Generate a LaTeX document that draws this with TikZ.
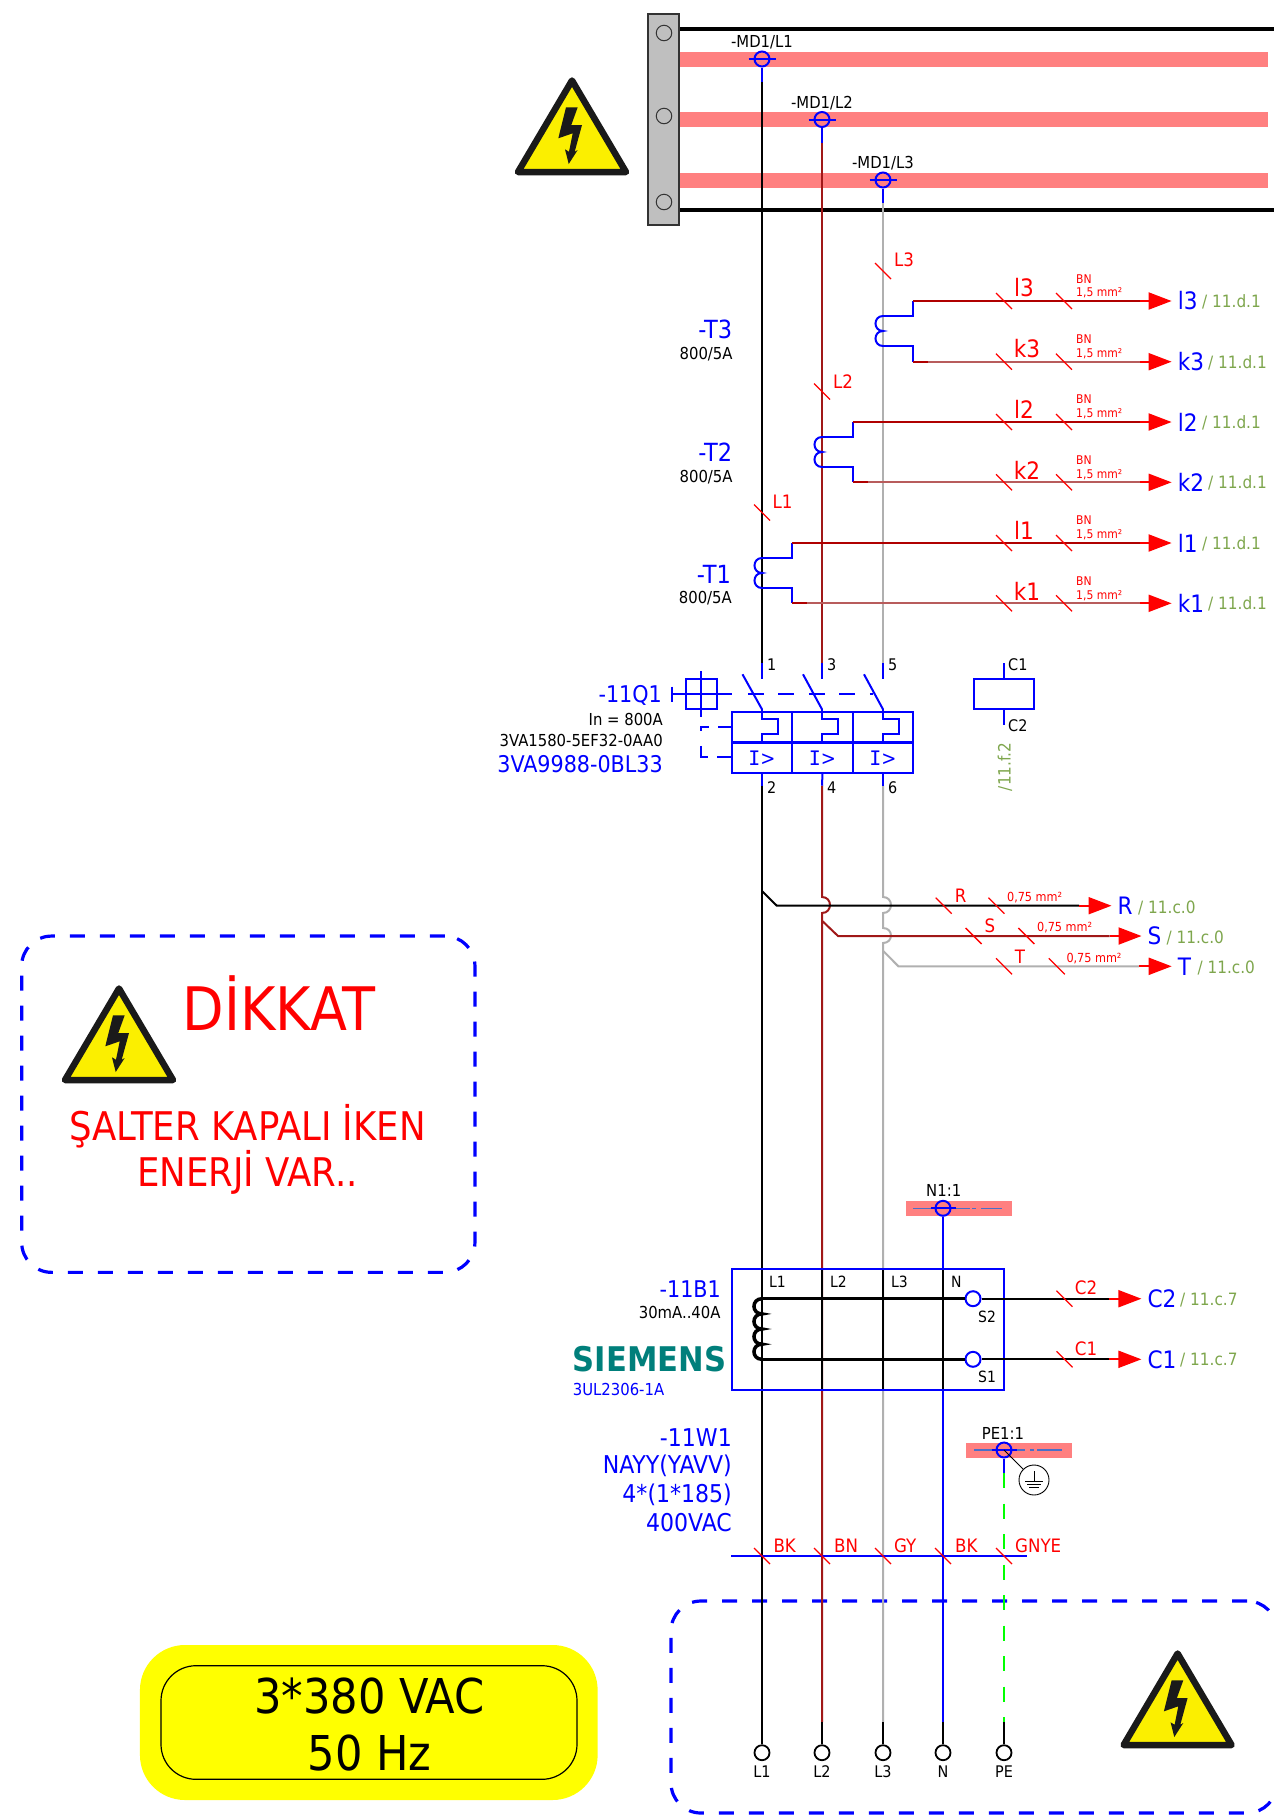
\documentclass[tikz,border=0pt]{standalone}
\usepackage{fontspec}
\setmainfont{DejaVu Sans Condensed}
\newfontfamily\slabfont{DejaVu Sans Mono}
\usetikzlibrary{arrows.meta}

\definecolor{busred}{HTML}{FF8080}
\definecolor{wirebrown}{HTML}{A01818}
\definecolor{wiregrey}{HTML}{B0B0B0}
\definecolor{refgreen}{HTML}{7EA64D}
\definecolor{siemensteal}{HTML}{007F7B}
\definecolor{signyellow}{HTML}{FBEF00}
\definecolor{signblack}{HTML}{1A1A1A}
\definecolor{voltyellow}{HTML}{FFFF00}
\definecolor{darkout}{HTML}{B00000}
\definecolor{paleout}{HTML}{B85C5C}
\definecolor{axisblue}{HTML}{4A6FC8}

\tikzset{
  fs/.style={font=\fontsize{#1}{#1}\selectfont},
  wire/.style={line width=2},
  bluewire/.style={wire,draw=blue},
  redhead/.style={wire,draw=red,-{Triangle[length=23pt,width=17pt]}},
  taptick/.pic={\draw[red,line width=1.3] (-8,-8) -- (8,8);},
  ctcoil/.pic={\draw[bluewire] (0,0) .. controls (-10,0) and (-10,15) .. (0,15) .. controls (-10,15) and (-10,30) .. (0,30);},
  bimetal/.pic={\draw[bluewire] (0,0) -- (0,10) -- (15.5,10) -- (15.5,24.5) -- (0,24.5) -- (0,33);},
  warnsign/.pic={
    \draw[draw=signblack,fill=signyellow,line width=6.5,line join=round] (0,3.5) -- (54,95) -- (-54,95) -- cycle;
    \fill[signblack] (-6,30.3) -- (5.7,30.3) -- (-0.7,48) -- (10,48) -- (2.7,74.7) -- (5.7,73) -- (-3.3,87) -- (-7,72.3) -- (-3,74.7) -- (0.7,56.3) -- (-13.7,61.3) -- cycle;
  },
  cell/.style={draw=blue,line width=2,minimum width=60.4,minimum height=31,outer sep=0pt,text=blue,fs=20},
  tapring/.style={circle,draw=blue,line width=2,minimum size=15},
  terminal/.style={circle,draw=black,line width=1.8,minimum size=15},
  sring/.style={circle,draw=blue,line width=2,minimum size=15},
  dashbox/.style={draw=blue,line width=3.2,dash pattern=on 15pt off 15pt,rounded corners=30},
  blabel/.style={text=blue,anchor=west,inner xsep=6pt,fs=24},
  refnote/.style={text=refgreen,anchor=west,fs=17},
  redtxt/.style={text=red,fs=#1},
  blacktxt/.style={text=black,fs=#1},
  rightblue/.style={text=blue,anchor=east,fs=#1},
  rightblack/.style={text=black,anchor=east,fs=#1},
  leftblack/.style={text=black,anchor=west,fs=#1},
}

\begin{document}
\begin{tikzpicture}[x=1pt,y=-1pt,every node/.style={inner sep=0pt}]
   \useasboundingbox (0,0) rectangle (1274,1816);

   % panels
   \node[fill=voltyellow,rounded corners=45,minimum width=457.7,minimum height=155] (voltbg) at (368.8,1722.5) {};
   \node[draw=black,line width=1.2,rounded corners=35,minimum width=416,minimum height=113.6] (voltfr) at (369,1722.5) {};
   \node[fs=48] (volta) at (369.5,1696) {3*380 VAC};
   \node[fs=48] (voltb) at (369.5,1753) {50 Hz};
   \node[dashbox,minimum width=453.3,minimum height=336.3] (warnbox) at (248.3,1104.2) {};
   \node[dashbox,minimum width=606,minimum height=212] (termbox) at (974,1707) {};

   % warning text
   \node[text=red,fs=60] (dikkat) at (279,1003) {DİKKAT};
   \node[text=red,fs=39.5] (salter) at (247.5,1126.7) {ŞALTER KAPALI İKEN};
   \node[text=red,fs=39.5] (enerji) at (247.5,1172) {ENERJİ VAR..};
   \pic at (572,77) {warnsign};
   \pic at (119,985) {warnsign};
   \pic at (1177.6,1650) {warnsign};

   % busbars
   \node[fill=busred,minimum width=589,minimum height=15] (bar1) at (973.5,59) {};
   \node[fill=busred,minimum width=589,minimum height=15] (bar2) at (973.5,119.5) {};
   \node[fill=busred,minimum width=589,minimum height=15] (bar3) at (973.5,180) {};
   \node[fill=busred,minimum width=105.7,minimum height=14.7] (barN) at (958.8,1208.3) {};
   \node[fill=busred,minimum width=106,minimum height=15] (barPE) at (1019,1450) {};
   \coordinate (bt1) at (679,29);
   \coordinate (bt2) at (1274,29);
   \coordinate (bb1) at (679,210);
   \coordinate (bb2) at (1274,210);
   \draw[line width=3.5] (bt1) -- (bt2);
   \draw[line width=3.5] (bb1) -- (bb2);
   \node[draw=black!80,fill=black!25,line width=1.5,minimum width=31,minimum height=211] (rail) at (663.5,119.5) {};
   \node[circle,draw=black!80,line width=1,minimum size=15.5] (railc1) at (664,33) {};
   \node[circle,draw=black!80,line width=1,minimum size=15.5] (railc2) at (664,116) {};
   \node[circle,draw=black!80,line width=1,minimum size=15.5] (railc3) at (664,202) {};

   % phase wires
   \coordinate (a1) at (762,82);
   \coordinate (a2) at (822,143);
   \coordinate (a3) at (883,203);
   \coordinate (b1) at (762,663.3);
   \coordinate (b2) at (822,663.3);
   \coordinate (b3) at (883,663.3);
   \coordinate (c1) at (762,679.3);
   \coordinate (c2) at (822,679.3);
   \coordinate (c3) at (883,679.3);
   \coordinate (f1) at (762,785.7);
   \coordinate (f2) at (822,785.7);
   \coordinate (f3) at (883,785.7);
   \coordinate (h1) at (822,897);
   \coordinate (h2) at (822,913);
   \coordinate (h3) at (883,897);
   \coordinate (h4) at (883,913);
   \coordinate (h5) at (883,928);
   \coordinate (h6) at (883,943);
   \coordinate (g1) at (762,1722);
   \coordinate (g2) at (822,1722);
   \coordinate (g3) at (883,1722);
   \coordinate (gN) at (943,1722);
   \coordinate (gPE) at (1004,1722);
   \draw[wire] (a1) -- (b1);
   \draw[wire] (f1) -- (g1);
   \draw[wire,wirebrown] (a2) -- (b2);
   \draw[wire,wirebrown] (f2) -- (h1) .. controls (832.6,897) and (832.6,913) .. (h2) -- (g2);
   \draw[wire,wiregrey] (a3) -- (b3);
   \draw[wire,wiregrey] (f3) -- (h3) .. controls (893.6,897) and (893.6,913) .. (h4) -- (h5) .. controls (893.6,928) and (893.6,943) .. (h6) -- (g3);

   % bus taps
   \node[tapring] (md1) at (762,59) {};
   \node[tapring] (md2) at (822,119.5) {};
   \node[tapring] (md3) at (883,180) {};
   \draw[bluewire] (md1) -- (a1);
   \draw[bluewire] (md2) -- (a2);
   \draw[bluewire] (md3) -- (a3);
   \draw[bluewire] ([xshift=-5pt]md1.west) -- ([xshift=5pt]md1.east);
   \draw[bluewire] ([xshift=-5pt]md2.west) -- ([xshift=5pt]md2.east);
   \draw[bluewire] ([xshift=-5pt]md3.west) -- ([xshift=5pt]md3.east);
   \node[blacktxt=16.5] (md1t) at (762,42) {-MD1/L1};
   \node[blacktxt=16.5] (md2t) at (822,103) {-MD1/L2};
   \node[blacktxt=16.5] (md3t) at (883,163) {-MD1/L3};

   % current transformers
   \pic at (883,316) {ctcoil};
   \pic at (822,437) {ctcoil};
   \pic at (762,558) {ctcoil};
   \coordinate (k3a) at (883,316);
   \coordinate (k3b) at (913,316);
   \coordinate (k3c) at (913,301);
   \coordinate (k3d) at (883,346);
   \coordinate (k3e) at (913,346);
   \coordinate (k3f) at (913,361.7);
   \coordinate (k2a) at (822,437);
   \coordinate (k2b) at (852.6,437);
   \coordinate (k2c) at (852.6,422);
   \coordinate (k2d) at (822,467);
   \coordinate (k2e) at (852.6,467);
   \coordinate (k2f) at (852.6,482.3);
   \coordinate (k1a) at (762,558);
   \coordinate (k1b) at (792.3,558);
   \coordinate (k1c) at (792.3,543);
   \coordinate (k1d) at (762,588);
   \coordinate (k1e) at (792.3,588);
   \coordinate (k1f) at (792.3,603.3);
   \draw[bluewire] (k3a) -- (k3b) -- (k3c);
   \draw[bluewire] (k3d) -- (k3e) -- (k3f);
   \draw[bluewire] (k2a) -- (k2b) -- (k2c);
   \draw[bluewire] (k2d) -- (k2e) -- (k2f);
   \draw[bluewire] (k1a) -- (k1b) -- (k1c);
   \draw[bluewire] (k1d) -- (k1e) -- (k1f);
   \node[rightblue=25] (t3t) at (732.4,329) {-T3};
   \node[rightblue=25] (t2t) at (732.4,452.7) {-T2};
   \node[rightblue=25] (t1t) at (731,574.7) {-T1};
   \node[rightblack=16.5] (t3r) at (732.8,354) {800/5A};
   \node[rightblack=16.5] (t2r) at (732.8,477) {800/5A};
   \node[rightblack=16.5] (t1r) at (732,598) {800/5A};
   \pic at (883,271) {taptick};
   \pic at (822,391.5) {taptick};
   \pic at (762,512.5) {taptick};
   \node[redtxt=18.5] (l3tx) at (904,260) {L3};
   \node[redtxt=18.5] (l2tx) at (843,382) {L2};
   \node[redtxt=18.5] (l1tx) at (782.5,502) {L1};

   % secondary outputs
   \node[blabel] (l3out) at (1171.6,301) {l3};
   \node[blabel] (k3out) at (1171.6,361.7) {k3};
   \node[blabel] (l2out) at (1171.6,422) {l2};
   \node[blabel] (k2out) at (1171.6,482.3) {k2};
   \node[blabel] (l1out) at (1171.6,543) {l1};
   \node[blabel] (k1out) at (1171.6,603.3) {k1};
   \coordinate (s3a) at (1140,301);
   \coordinate (s3b) at (1140,361.7);
   \coordinate (s2a) at (1140,422);
   \coordinate (s2b) at (1140,482.3);
   \coordinate (s1a) at (1140,543);
   \coordinate (s1b) at (1140,603.3);
   \draw[wire,darkout] (k3c) -- (s3a);
   \draw[wire,darkout] (k2c) -- (s2a);
   \draw[wire,darkout] (k1c) -- (s1a);
   \draw[wire,paleout] (k3f) -- (s3b);
   \draw[wire,paleout] (k2f) -- (s2b);
   \draw[wire,paleout] (k1f) -- (s1b);
   \draw[wire,darkout] (k3f) -- ++(15,0);
   \draw[wire,darkout] (k2f) -- ++(15,0);
   \draw[wire,darkout] (k1f) -- ++(15,0);
   \draw[redhead] (s3a) -- (l3out);
   \draw[redhead] (s3b) -- (k3out);
   \draw[redhead] (s2a) -- (l2out);
   \draw[redhead] (s2b) -- (k2out);
   \draw[redhead] (s1a) -- (l1out);
   \draw[redhead] (s1b) -- (k1out);
   \node[refnote] (l3ref) at (1202,302) {/ 11.d.1};
   \node[refnote] (k3ref) at (1208,362.7) {/ 11.d.1};
   \node[refnote] (l2ref) at (1202,423) {/ 11.d.1};
   \node[refnote] (k2ref) at (1208,483.3) {/ 11.d.1};
   \node[refnote] (l1ref) at (1202,544) {/ 11.d.1};
   \node[refnote] (k1ref) at (1208,604.3) {/ 11.d.1};
   \pic at (1004,301) {taptick};
   \pic at (1064,301) {taptick};
   \pic at (1004,361.7) {taptick};
   \pic at (1064,361.7) {taptick};
   \pic at (1004,422) {taptick};
   \pic at (1064,422) {taptick};
   \pic at (1004,482.3) {taptick};
   \pic at (1064,482.3) {taptick};
   \pic at (1004,543) {taptick};
   \pic at (1064,543) {taptick};
   \pic at (1004,603.3) {taptick};
   \pic at (1064,603.3) {taptick};
   \begin{scope}[every node/.style={inner sep=0pt,text=red,fs=24}]
    \node (l3n) at (1024,288) {l3};
    \node (k3n) at (1027,349) {k3};
    \node (l2n) at (1024,409) {l2};
    \node (k2n) at (1027,470) {k2};
    \node (l1n) at (1024,530) {l1};
    \node (k1n) at (1027,591) {k1};
   \end{scope}
   \begin{scope}[every node/.style={inner sep=0pt,text=red,anchor=west,fs=12}]
    \node (bn1) at (1076,279) {BN};
    \node (bn2) at (1076,339) {BN};
    \node (bn3) at (1076,399) {BN};
    \node (bn4) at (1076,460) {BN};
    \node (bn5) at (1076,520) {BN};
    \node (bn6) at (1076,581) {BN};
    \node (mm1) at (1076,292.7) {1,5 mm²};
    \node (mm2) at (1076,353.7) {1,5 mm²};
    \node (mm3) at (1076,413.7) {1,5 mm²};
    \node (mm4) at (1076,474.7) {1,5 mm²};
    \node (mm5) at (1076,534.7) {1,5 mm²};
    \node (mm6) at (1076,595.7) {1,5 mm²};
   \end{scope}

   % breaker
   \draw[bluewire] (b1) -- (c1);
   \draw[bluewire] (b2) -- (c2);
   \draw[bluewire] (b3) -- (c3);
   \node[cell] (q1) at (762,727.2) {};
   \node[cell] (q2) at (822.5,727.2) {};
   \node[cell] (q3) at (883,727.2) {};
   \node[cell] (r1) at (762,757.8) {{\slabfont I}>};
   \node[cell] (r2) at (822.5,757.8) {{\slabfont I}>};
   \node[cell] (r3) at (883,757.8) {{\slabfont I}>};
   \coordinate (e1) at (762,709.3);
   \coordinate (e2) at (822,709.3);
   \coordinate (e3) at (883,709.3);
   \coordinate (sw1) at (742.5,674.3);
   \coordinate (sw2) at (803,674.3);
   \coordinate (sw3) at (864,674.3);
   \draw[bluewire] (sw1) -- (e1);
   \draw[bluewire] (sw2) -- (e2);
   \draw[bluewire] (sw3) -- (e3);
   \pic at (e1) {bimetal};
   \pic at (e2) {bimetal};
   \pic at (e3) {bimetal};
   \draw[bluewire] (r1.south) -- (f1);
   \draw[bluewire] (r2.south) -- (f2);
   \draw[bluewire] (r3.south) -- (f3);
   \node[leftblack=16] (p1) at (767,665) {1};
   \node[leftblack=16] (p3) at (827,665) {3};
   \node[leftblack=16] (p5) at (888,665) {5};
   \node[leftblack=16] (p2) at (767,788) {2};
   \node[leftblack=16] (p4) at (827,788) {4};
   \node[leftblack=16] (p6) at (888,788) {6};

   % rotary handle
   \node[draw=blue,line width=2,minimum width=30.8,minimum height=30] (handle) at (701.4,694) {};
   \coordinate (hw) at (671.8,693.7);
   \coordinate (hw1) at (671.8,686.7);
   \coordinate (hw2) at (671.8,701.7);
   \coordinate (he) at (731.8,693.7);
   \coordinate (hd) at (747.9,693.7);
   \coordinate (hf) at (873,693.7);
   \coordinate (hn) at (701.4,671);
   \coordinate (hs) at (701.4,716.7);
   \coordinate (la) at (731.8,727.3);
   \coordinate (lb) at (701.4,727.3);
   \coordinate (lc) at (701.4,757.3);
   \coordinate (ld) at (731.8,757.3);
   \draw[bluewire] (hw1) -- (hw2);
   \draw[bluewire] (hw) -- (he);
   \draw[bluewire] (hn) -- (hs);
   \draw[bluewire,dash pattern=on 16pt off 14.5pt] (hd) -- (hf);
   \draw[bluewire,dash pattern=on 14pt off 9pt on 11pt off 15pt on 18pt off 9pt on 14pt off 0pt] (la) -- (lb) -- (lc) -- (ld);
   \node[rightblue=23] (q1tag) at (662,695) {-11Q1};
   \node[rightblack=16.5] (q1in) at (663,719) {In = 800A};
   \node[rightblack=16.5] (q1type) at (663,740) {3VA1580-5EF32-0AA0};
   \node[rightblue=23] (q1aux) at (663,764) {3VA9988-0BL33};

   % contactor coil
   \node[draw=blue,line width=2,minimum width=60,minimum height=30] (coil) at (1003.6,694) {};
   \coordinate (co1) at (1003.6,663.3);
   \coordinate (co2) at (1003.6,725);
   \draw[bluewire] (co1) -- (coil);
   \draw[bluewire] (coil) -- (co2);
   \node[leftblack=16] (c1tx) at (1008,665) {C1};
   \node[leftblack=16] (c2tx) at (1008,726) {C2};
   \node[text=refgreen,rotate=90,fs=17] (cref) at (1005,767) {/11.f.2};

   % tap wires
   \coordinate (ta1) at (762,891);
   \coordinate (ta2) at (776.8,905.7);
   \coordinate (ta3) at (1079,905.7);
   \coordinate (tb1) at (822,920.7);
   \coordinate (tb2) at (838,936);
   \coordinate (tb3) at (1109.5,936);
   \coordinate (tc1) at (883,950.7);
   \coordinate (tc2) at (898.4,966.3);
   \coordinate (tc3) at (1139,966.3);
   \draw[wire] (ta1) -- (ta2) -- (ta3);
   \draw[wire,wirebrown] (tb1) -- (tb2) -- (tb3);
   \draw[wire,wiregrey] (tc1) -- (tc2) -- (tc3);
   \node[blabel] (rout) at (1111.5,905.7) {R};
   \node[blabel] (sout) at (1141.5,936) {S};
   \node[blabel] (tout) at (1171.7,966.3) {T};
   \draw[redhead] (ta3) -- (rout);
   \draw[redhead] (tb3) -- (sout);
   \draw[redhead] (tc3) -- (tout);
   \node[refnote] (rref) at (1138,908) {/ 11.c.0};
   \node[refnote] (sref) at (1166.4,938) {/ 11.c.0};
   \node[refnote] (tref) at (1197.4,968) {/ 11.c.0};
   \pic at (943.7,905.7) {taptick};
   \pic at (996.5,905.7) {taptick};
   \pic at (973.6,936) {taptick};
   \pic at (1026.4,936) {taptick};
   \pic at (1004,966.3) {taptick};
   \pic at (1056.8,966.3) {taptick};
   \node[redtxt=18.5] (rtx) at (960.7,895.7) {R};
   \node[redtxt=18.5] (stx) at (990,925.7) {S};
   \node[redtxt=18.5] (ttx) at (1020,956.7) {T};
   \node[redtxt=12.5] (rmm) at (1034.6,897.3) {0,75 mm²};
   \node[redtxt=12.5] (smm) at (1064.6,927.7) {0,75 mm²};
   \node[redtxt=12.5] (tmm) at (1094,958.7) {0,75 mm²};

   % neutral and earth bars
   \coordinate (nl) at (913,1208.3);
   \coordinate (nr) at (1001.7,1208.3);
   \coordinate (pl) at (974,1450);
   \coordinate (pr) at (1061.7,1450);
   \draw[draw=axisblue,line width=1.4,dash pattern=on 57pt off 2pt on 4pt off 5pt on 21pt off 0pt] (nl) -- (nr);
   \draw[draw=axisblue,line width=1.4,dash pattern=on 51pt off 5pt on 4pt off 3pt on 25pt off 0pt] (pl) -- (pr);
   \node[tapring] (n1) at (943,1208.3) {};
   \node[tapring] (pe1) at (1004,1450) {};
   \draw[bluewire] ([xshift=-4pt]n1.west) -- ([xshift=4pt]n1.east);
   \draw[bluewire] ([xshift=-4pt]pe1.west) -- ([xshift=4pt]pe1.east);
   \node[blacktxt=16.5] (n1t) at (943.7,1190) {N1:1};
   \node[blacktxt=16.5] (pe1t) at (1003,1433) {PE1:1};
   \coordinate (pea) at (1004,1473);
   \coordinate (peb) at (1004,1722);
   \draw[bluewire] (n1) -- (gN);
   \draw[bluewire] (pe1) -- (pea);
   \draw[wire,draw=green,dash pattern=on 15pt off 15.5pt] (pea) -- (peb);
   \node[circle,draw=black,line width=0.9,minimum size=30] (earth) at (1034,1480) {};
   \draw[line width=0.9] (pe1.center) -- (earth);
   \coordinate (ea1) at (1034,1471);
   \coordinate (ea2) at (1034,1481);
   \coordinate (eb1) at (1025,1481);
   \coordinate (eb2) at (1043,1481);
   \coordinate (ec1) at (1027,1484.3);
   \coordinate (ec2) at (1041,1484.3);
   \coordinate (ed1) at (1029,1487.7);
   \coordinate (ed2) at (1039,1487.7);
   \draw[line width=0.9] (ea1) -- (ea2);
   \draw[line width=0.9] (eb1) -- (eb2);
   \draw[line width=0.9] (ec1) -- (ec2);
   \draw[line width=0.9] (ed1) -- (ed2);

   % residual current relay
   \coordinate (i1) at (822,1269);
   \coordinate (i2) at (822,1390);
   \coordinate (i3) at (883,1269);
   \coordinate (i4) at (883,1390);
   \coordinate (i5) at (943,1269);
   \coordinate (i6) at (943,1390);
   \draw[wire] (i1) -- (i2);
   \draw[wire] (i3) -- (i4);
   \draw[wire] (i5) -- (i6);
   \node[draw=blue,line width=2,minimum width=272,minimum height=121] (rcm) at (868,1329.5) {};
   \coordinate (u1) at (762,1298.7);
   \coordinate (u2) at (762,1359.3);
   \node[sring] (s2) at (973,1298.7) {};
   \node[sring] (s1) at (973,1359.3) {};
   \draw[line width=3.5] (u1) -- (s2);
   \draw[line width=3.5] (u2) -- (s1);
   \draw[line width=3.5] (u1) .. controls (751.3,1298.7) and (751.3,1313.9) .. (762,1313.9) .. controls (751.3,1313.9) and (751.3,1329) .. (762,1329) .. controls (751.3,1329) and (751.3,1344.2) .. (762,1344.2) .. controls (751.3,1344.2) and (751.3,1359.3) .. (u2);
   \node[leftblack=15.5] (rl1) at (769,1281.7) {L1};
   \node[leftblack=15.5] (rl2) at (830,1281.7) {L2};
   \node[leftblack=15.5] (rl3) at (891,1281.7) {L3};
   \node[leftblack=15.5] (rln) at (951,1281.7) {N};
   \node[leftblack=15.5] (rs2) at (978,1316.7) {S2};
   \node[leftblack=15.5] (rs1) at (978,1376.7) {S1};
   \coordinate (v1) at (1108.7,1298.7);
   \coordinate (v2) at (1108.7,1359.3);
   \draw[wire] (s2) -- (v1);
   \draw[wire] (s1) -- (v2);
   \node[blabel] (c2out) at (1141.4,1298.7) {C2};
   \node[blabel] (c1out) at (1141.4,1359.3) {C1};
   \draw[redhead] (v1) -- (c2out);
   \draw[redhead] (v2) -- (c1out);
   \node[refnote] (c2ref) at (1180,1300) {/ 11.c.7};
   \node[refnote] (c1ref) at (1180,1360) {/ 11.c.7};
   \pic at (1064.5,1298.7) {taptick};
   \pic at (1064.5,1359.3) {taptick};
   \node[redtxt=18.5] (c2tk) at (1086,1288) {C2};
   \node[redtxt=18.5] (c1tk) at (1086,1349) {C1};
   \node[rightblue=23] (b1tag) at (721,1289) {-11B1};
   \node[rightblack=16.5] (b1rng) at (720.7,1312) {30mA..40A};
   \node[anchor=west,text=siemensteal,font=\fontsize{34}{34}\selectfont\bfseries] (siemens) at (572.7,1359) {SIEMENS};
   \node[text=blue,anchor=west,fs=16.5] (rcmtype) at (572.7,1389) {3UL2306-1A};

   % cable
   \coordinate (ca) at (731,1555.7);
   \coordinate (cb) at (1026.7,1555.7);
   \draw[bluewire] (ca) -- (cb);
   \pic at (762,1556) {taptick};
   \pic at (822,1556) {taptick};
   \pic at (883,1556) {taptick};
   \pic at (943,1556) {taptick};
   \pic at (1004,1556) {taptick};
   \begin{scope}[every node/.style={inner sep=0pt,text=red,anchor=west,fs=18.5}]
    \node (bk1) at (773.3,1545.7) {BK};
    \node (bn7) at (834,1545.7) {BN};
    \node (gy1) at (894,1545.7) {GY};
    \node (bk2) at (955,1545.7) {BK};
    \node (gnye) at (1015,1545.7) {GNYE};
   \end{scope}
   \node[rightblue=24.5] (w1a) at (732,1438) {-11W1};
   \node[rightblue=24.5] (w1b) at (732,1466) {NAYY(YAVV)};
   \node[rightblue=24.5] (w1c) at (732,1495) {4*(1*185)};
   \node[rightblue=24.5] (w1d) at (732,1522.5) {400VAC};

   % terminals
   \node[terminal] (t1) at (762,1752.7) {};
   \node[terminal] (t2) at (822,1752.7) {};
   \node[terminal] (t3) at (883,1752.7) {};
   \node[terminal] (t4) at (943,1752.7) {};
   \node[terminal] (t5) at (1004,1752.7) {};
   \draw[wire] (g1) -- (t1);
   \draw[wire] (g2) -- (t2);
   \draw[wire] (g3) -- (t3);
   \draw[wire] (gN) -- (t4);
   \draw[wire] (gPE) -- (t5);
   \node[blacktxt=16] (t1t) at (762,1771.7) {L1};
   \node[blacktxt=16] (t2t) at (822,1771.7) {L2};
   \node[blacktxt=16] (t3t) at (883,1771.7) {L3};
   \node[blacktxt=16] (t4t) at (943,1771.7) {N};
   \node[blacktxt=16] (t5t) at (1004,1771.7) {PE};
\end{tikzpicture}
\end{document}
